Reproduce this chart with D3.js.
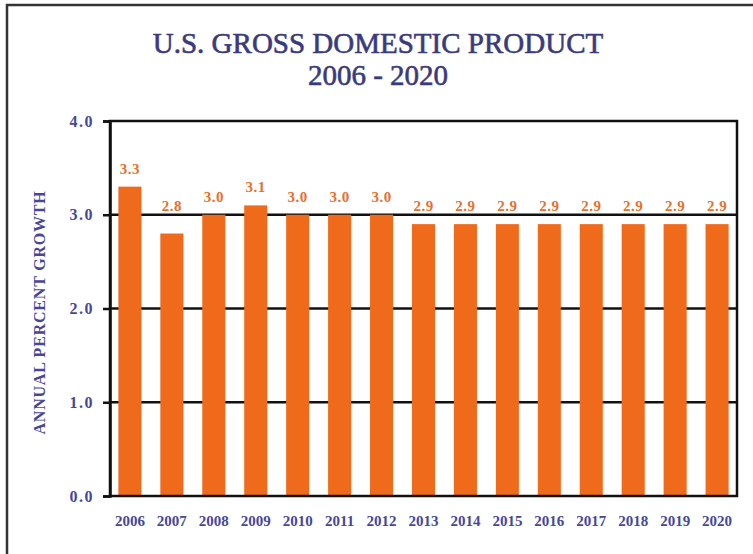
<!DOCTYPE html>
<html>
<head>
<meta charset="utf-8">
<script src="https://cdn.jsdelivr.net/npm/d3@7"></script>
<style>
  html, body { margin: 0; padding: 0; background: #fff; }
  svg { display: block; }
</style>
</head>
<body>
<svg id="chart" width="753" height="554"></svg>
<script>
// GDP annual growth, 2006-2020
const years = ["2006","2007","2008","2009","2010","2011","2012","2013","2014","2015","2016","2017","2018","2019","2020"];
const growth = [3.3, 2.8, 3.0, 3.1, 3.0, 3.0, 3.0, 2.9, 2.9, 2.9, 2.9, 2.9, 2.9, 2.9, 2.9];
const yTicks = [0, 1, 2, 3, 4];
const titleLines = ["U.S. GROSS DOMESTIC PRODUCT", "2006 - 2020"];
const yAxisTitle = "ANNUAL PERCENT GROWTH";

const svg = d3.select("#chart");
const W = 753, H = 554;
const margin = { left: 110, right: 16, top: 121, bottom: 58 };
const innerW = W - margin.left - margin.right;
const innerH = H - margin.top - margin.bottom;

const serif = "'Liberation Serif', 'DejaVu Serif', serif";
const ink = "#47479a";
const titleInk = "#3a3a7e";
const orange = "#f06a1c";

// outer frame (top and left edges)
svg.append("path")
  .attr("d", `M7,${H} L7,5 L${W},5`)
  .attr("fill", "none")
  .attr("stroke", "#333")
  .attr("stroke-width", 2.5);

// title
svg.append("g").selectAll("text")
  .data(titleLines)
  .join("text")
  .attr("x", 378)
  .attr("y", (d, i) => 53 + i * 32)
  .attr("text-anchor", "middle")
  .attr("font-family", serif)
  .attr("font-size", 29)
  .attr("fill", titleInk)
  .attr("stroke", titleInk)
  .attr("stroke-width", 0.6)
  .text(d => d);

const x = d3.scaleBand().domain(years).range([0, innerW]).paddingInner(0.45).paddingOuter(0.2);
const y = d3.scaleLinear().domain([0, 4]).range([innerH, 0]);

const g = svg.append("g").attr("transform", `translate(${margin.left},${margin.top})`);

// horizontal gridlines behind bars
g.append("g").selectAll("line")
  .data(yTicks.filter(t => t > 0 && t < 4))
  .join("line")
  .attr("x1", 0).attr("x2", innerW)
  .attr("y1", d => y(d)).attr("y2", d => y(d))
  .attr("stroke", "#111").attr("stroke-width", 2.5);

// bars
g.append("g").selectAll("rect")
  .data(growth)
  .join("rect")
  .attr("x", (d, i) => x(years[i]))
  .attr("y", d => y(d))
  .attr("width", x.bandwidth())
  .attr("height", d => innerH - y(d))
  .attr("fill", orange);

// value labels; a label that would cross the 3.0 gridline sits just above it
g.append("g").selectAll("text")
  .data(growth)
  .join("text")
  .attr("x", (d, i) => x(years[i]) + x.bandwidth() / 2)
  .attr("y", d => Math.min(y(d) - 13, y(3) - 4))
  .attr("text-anchor", "middle")
  .attr("font-family", serif)
  .attr("font-weight", "bold")
  .attr("font-size", 15)
  .attr("letter-spacing", 0.5)
  .attr("fill", "#e8702c")
  .text(d => d.toFixed(1));

// plot frame: top, right, and baseline
g.append("rect")
  .attr("x", 0).attr("y", 0)
  .attr("width", innerW).attr("height", innerH)
  .attr("fill", "none")
  .attr("stroke", "#111").attr("stroke-width", 2.5);

// y axis
const yAxis = d3.axisLeft(y).tickValues(yTicks).tickFormat(d3.format(".1f")).tickSize(7).tickPadding(9);
const yg = g.append("g").call(yAxis);
yg.select(".domain").attr("stroke", "#111").attr("stroke-width", 2.5);
yg.selectAll(".tick line").attr("stroke", "#111").attr("stroke-width", 2.5);
yg.selectAll(".tick text")
  .attr("font-family", serif).attr("font-weight", "bold")
  .attr("font-size", 16).attr("letter-spacing", 1.5)
  .attr("fill", ink);

// x axis labels
const xAxis = d3.axisBottom(x).tickSize(0).tickPadding(19);
const xg = g.append("g").attr("transform", `translate(0,${innerH})`).call(xAxis);
xg.select(".domain").remove();
xg.selectAll(".tick text")
  .attr("font-family", serif).attr("font-weight", "bold")
  .attr("font-size", 15).attr("fill", ink);

// y axis title
svg.append("text")
  .attr("transform", `translate(45,${margin.top + innerH / 2 + 4}) rotate(-90)`)
  .attr("text-anchor", "middle")
  .attr("font-family", serif)
  .attr("font-weight", "bold")
  .attr("font-size", 16)
  .attr("letter-spacing", 0.8)
  .attr("fill", ink)
  .text(yAxisTitle);
</script>
</body>
</html>
